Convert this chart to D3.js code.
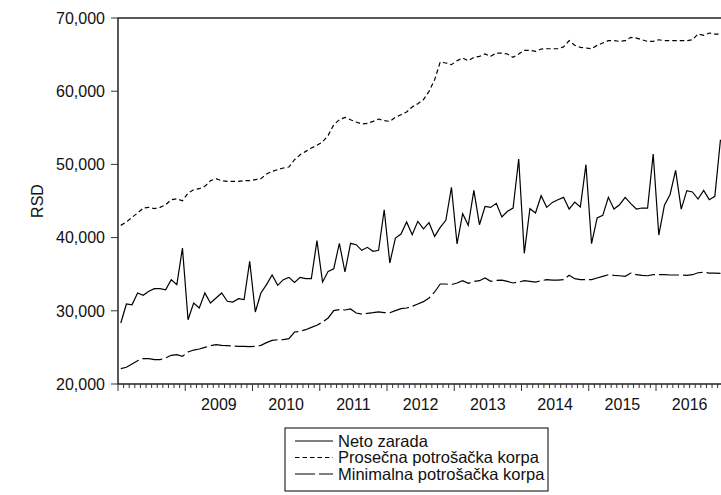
<!DOCTYPE html>
<html>
<head>
<meta charset="utf-8">
<script src="https://cdn.jsdelivr.net/npm/d3@7"></script>
<style>
  body { margin: 0; background: #fff; }
  svg { display: block; font-family: "Liberation Sans", Arial, sans-serif; }
</style>
</head>
<body>
<svg id="chart"></svg>
<script>
// 1. Data (monthly, Jan 2008 - Dec 2016)
const years = [2008, 2009, 2010, 2011, 2012, 2013, 2014, 2015, 2016];
const yTicks = [20000, 30000, 40000, 50000, 60000, 70000];
const seriesNames = ["Neto zarada", "Prosečna potrošačka korpa", "Minimalna potrošačka korpa"];

const netoZarada = [
  28330, 30930, 30830, 32430, 32120, 32660, 33020, 33020, 32880, 34250, 33570, 38580,
  28780, 31070, 30380, 32430, 31070, 31750, 32430, 31300, 31200, 31650, 31520, 36760,
  29840, 32430, 33570, 34900, 33480, 34250, 34570, 33890, 34570, 34390, 34390, 39580,
  33930, 35390, 35750, 39220, 35300, 39220, 39030, 38260, 38670, 38130, 38260, 43810,
  36530, 39940, 40490, 42130, 40400, 42220, 41200, 42040, 40170, 41400, 42360, 46870,
  39130, 43260, 41670, 46450, 41760, 44270, 44130, 44680, 42810, 43590, 44040, 50740,
  37850, 43950, 43360, 45720, 44130, 44810, 45180, 45500, 43900, 44860, 44180, 49960,
  39170, 42680, 43040, 45500, 43900, 44490, 45500, 44630, 43900, 44040, 44040, 51420,
  40350, 44410, 45860, 49190, 43900, 46410, 46230, 45270, 46450, 45180, 45630, 53370
];

const prosecnaKorpa = [
  41670, 42130, 42770, 43360, 44040, 44130, 43950, 44130, 44490, 45180, 45310, 45040,
  46090, 46540, 46680, 47000, 47770, 48040, 47770, 47680, 47680, 47680, 47770, 47770,
  47910, 48040, 48700, 49050, 49280, 49510, 49640, 50640, 51320, 51780, 52240, 52600,
  53060, 53970, 55420, 56100, 56430, 56100, 55790, 55520, 55610, 55880, 56200, 55970,
  55880, 56430, 56790, 57160, 57850, 58300, 58840, 59980, 61570, 63990, 63850, 63620,
  64170, 64530, 64170, 64620, 64760, 65080, 64760, 65210, 65210, 65080, 64620, 65080,
  65580, 65580, 65440, 65760, 65800, 65800, 65800, 66050, 66900, 66270, 65990, 65900,
  65800, 66270, 66580, 66900, 66900, 66810, 66900, 67360, 67260, 67030, 66810, 66810,
  67030, 66900, 66900, 66900, 66900, 66900, 67030, 67810, 67630, 67950, 67810, 67810
];

const minimalnaKorpa = [
  22090, 22280, 22730, 23180, 23460, 23460, 23320, 23320, 23550, 23920, 24000, 23780,
  24370, 24640, 24780, 25010, 25230, 25370, 25280, 25230, 25190, 25150, 25150, 25100,
  25150, 25280, 25650, 25950, 26050, 26050, 26190, 27100, 27200, 27420, 27740, 28020,
  28470, 29020, 30020, 30150, 30110, 30250, 29700, 29560, 29660, 29740, 29840, 29740,
  29740, 30020, 30290, 30380, 30610, 30930, 31250, 31750, 32570, 33660, 33660, 33570,
  33800, 34110, 33750, 34020, 34110, 34480, 34020, 34160, 34200, 34020, 33800, 33930,
  34110, 34020, 33930, 34110, 34250, 34200, 34200, 34250, 34850, 34390, 34250, 34250,
  34250, 34480, 34710, 34930, 34850, 34790, 34710, 35160, 34930, 34850, 34790, 34930,
  34930, 34930, 34890, 34890, 34890, 34850, 34930, 35200, 35260, 35160, 35160, 35120
];

// 2. Setup
const width = 721,
  height = 495;
const plotLeft = 118,
  plotTop = 18,
  plotBottom = 384,
  plotRight = 723.25;

const svg = d3.select("#chart").attr("width", width).attr("height", height);

const nMonths = years.length * 12;
const x = d3.scaleLinear().domain([0, nMonths]).range([plotLeft, plotRight]);
const y = d3.scaleLinear().domain([20000, 70000]).range([plotBottom, plotTop]);

// 3. Frame (top + left lines; right edge falls outside the window)
svg.append("rect")
  .attr("x", plotLeft)
  .attr("y", plotTop)
  .attr("width", plotRight - plotLeft)
  .attr("height", plotBottom - plotTop)
  .attr("fill", "none")
  .attr("stroke", "#000")
  .attr("stroke-width", 1.3);

// 4. Y axis
const yAxis = svg.append("g").attr("transform", `translate(${plotLeft},0)`);
yAxis.selectAll("line")
  .data(yTicks)
  .enter()
  .append("line")
  .attr("x1", -7)
  .attr("x2", 0)
  .attr("y1", (d) => y(d))
  .attr("y2", (d) => y(d))
  .attr("stroke", "#333")
  .attr("stroke-width", 1);
yAxis.selectAll("text")
  .data(yTicks)
  .enter()
  .append("text")
  .attr("x", -13)
  .attr("y", (d) => y(d))
  .attr("dy", "0.36em")
  .attr("text-anchor", "end")
  .attr("font-size", 16)
  .attr("fill", "#111")
  .text(d3.format(","));

svg.append("text")
  .attr("transform", `translate(43,201) rotate(-90)`)
  .attr("text-anchor", "middle")
  .attr("font-size", 16)
  .attr("fill", "#111")
  .text("RSD");

// 5. X axis: minor ticks per month, major per year
const xAxis = svg.append("g").attr("transform", `translate(0,${plotBottom})`);
xAxis.selectAll("line")
  .data(d3.range(nMonths + 1))
  .enter()
  .append("line")
  .attr("x1", (d) => x(d))
  .attr("x2", (d) => x(d))
  .attr("y1", 0)
  .attr("y2", (d) => (d % 12 === 0 ? 7 : 4))
  .attr("stroke", "#333")
  .attr("stroke-width", 1);
xAxis.selectAll("text")
  .data(years.slice(1))
  .enter()
  .append("text")
  .attr("x", (d) => x((d - years[0]) * 12 + 6))
  .attr("y", 25.5)
  .attr("text-anchor", "middle")
  .attr("font-size", 16)
  .attr("fill", "#111")
  .text((d) => d);

// 6. Lines
const styles = ["none", "4.5,3", "20,4"];
const series = [netoZarada, prosecnaKorpa, minimalnaKorpa];
const line = d3.line()
  .x((d, i) => x(i + 0.5))
  .y((d) => y(d));

svg.selectAll(".series")
  .data(series)
  .enter()
  .append("path")
  .attr("class", "series")
  .attr("d", line)
  .attr("fill", "none")
  .attr("stroke", "#000")
  .attr("stroke-width", 1.2)
  .attr("stroke-dasharray", (d, i) => styles[i]);

// 7. Legend
const legend = svg.append("g").attr("transform", "translate(285,428)");
legend.append("rect")
  .attr("width", 263)
  .attr("height", 63)
  .attr("fill", "#fff")
  .attr("stroke", "#000")
  .attr("stroke-width", 1);

const legendItems = legend.selectAll(".item")
  .data(seriesNames)
  .enter()
  .append("g")
  .attr("class", "item")
  .attr("transform", (d, i) => `translate(0,${13 + i * 16.5})`);

legendItems.append("line")
  .attr("x1", 10)
  .attr("x2", 48)
  .attr("stroke", "#000")
  .attr("stroke-width", 1.2)
  .attr("stroke-dasharray", (d, i) => styles[i]);
legendItems.append("text")
  .attr("x", 53)
  .attr("dy", "0.36em")
  .attr("font-size", 16.5)
  .attr("fill", "#111")
  .text((d) => d);
</script>
</body>
</html>
